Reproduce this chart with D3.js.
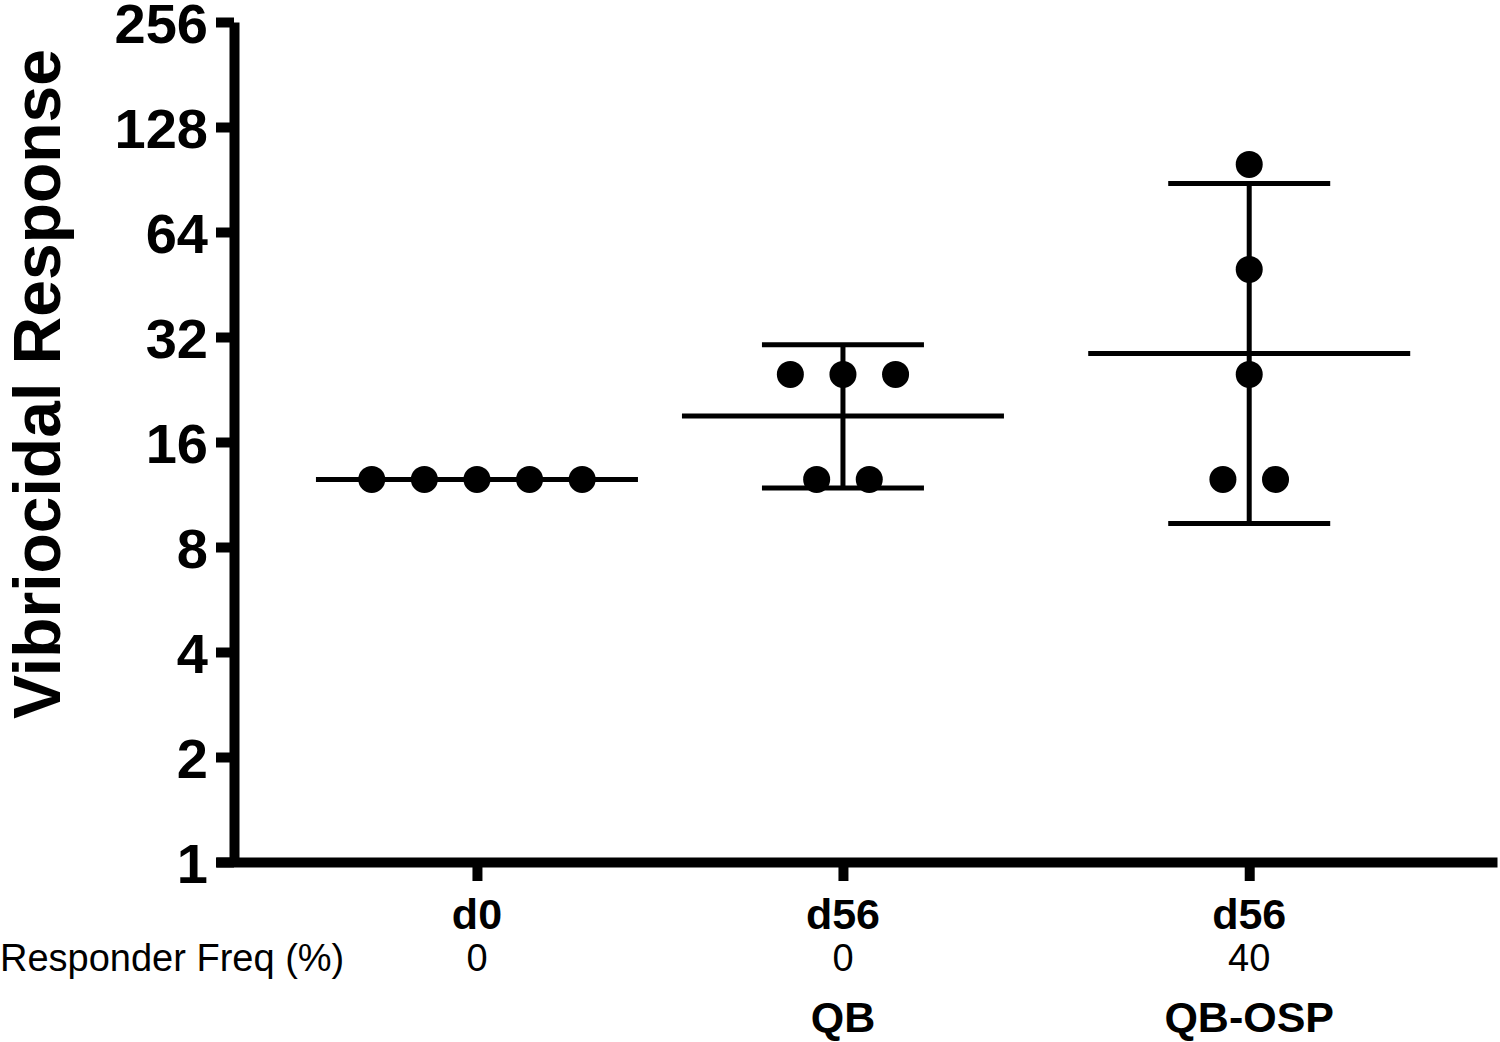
<!DOCTYPE html>
<html>
<head>
<meta charset="utf-8">
<script src="https://cdn.jsdelivr.net/npm/d3@7"></script>
<style>
  body { margin: 0; background: #fff; }
  text { font-family: "Liberation Sans", Arial, sans-serif; fill: #000; }
</style>
</head>
<body>
<div class="chart"></div>
<script>
// data
const timepoints = ["d0", "d56", "d56"];
const vaccines = ["", "QB", "QB-OSP"];
const responderFreq = [0, 0, 40];
const groupSlot = [0, 1, 2.11];   // column position (gap before last column)

const d0Titers = [12.5, 12.5, 12.5, 12.5, 12.5];
const qbTiters = [25, 25, 25, 12.5, 12.5];
const qbOspTiters = [100, 50, 25, 12.5, 12.5];

// geometric mean with 95% CI
const geoMeans = [12.5, 19.0, 28.7];
const ciLower = [12.5, 11.8, 9.35];
const ciUpper = [12.5, 30.4, 88.2];

const yTicks = [1, 2, 4, 8, 16, 32, 64, 128, 256];

const titers = [d0Titers, qbTiters, qbOspTiters];

const svg_width = 1500, svg_height = 1042;
const svg = d3.select('.chart').append('svg')
  .attr('width', svg_width).attr('height', svg_height);

const yScale = d3.scaleLog().base(2).domain([1, 256]).range([862, 22]);
const xScale = d3.scaleLinear().domain([-0.713, 2.787]).range([216, 1497]);

const dotSpacing = 52.6;
const meanHalf = 161, capHalf = 81;

// y axis
const yAxis = d3.axisLeft(yScale)
  .tickValues(yTicks)
  .tickFormat(d3.format('d'))
  .tickSize(18)
  .tickSizeOuter(0)
  .tickPadding(8);
const yAxisDraw = svg.append('g')
  .attr('transform', 'translate(234,0)')
  .call(yAxis);
yAxisDraw.select('.domain').attr('stroke-width', 10);
yAxisDraw.selectAll('.tick line').attr('stroke-width', 10);
yAxisDraw.selectAll('.tick text')
  .style('font-size', '56px').style('font-weight', 'bold')
  .attr('dy', '0.36em');

// x axis
const xAxis = d3.axisBottom(xScale)
  .tickValues(groupSlot)
  .tickFormat('')
  .tickSize(19)
  .tickSizeOuter(0);
const xAxisDraw = svg.append('g')
  .attr('transform', 'translate(0,862)')
  .call(xAxis);
xAxisDraw.select('.domain').attr('stroke-width', 10);
xAxisDraw.selectAll('.tick line').attr('stroke-width', 10);

// y label
svg.append('text')
  .attr('transform', `translate(60,${(50 + 718) / 2}) rotate(-90)`)
  .attr('text-anchor', 'middle')
  .style('font-size', '66px').style('font-weight', 'bold')
  .text('Vibriocidal Response');

// category labels
const labels = svg.append('g');
labels.selectAll('.tp').data(timepoints).enter().append('text')
  .attr('class', 'tp')
  .attr('x', (d, i) => xScale(groupSlot[i]))
  .attr('y', 929)
  .attr('text-anchor', 'middle')
  .style('font-size', '43px').style('font-weight', 'bold')
  .text(d => d);

labels.append('text')
  .attr('x', 0).attr('y', 971)
  .style('font-size', '38px')
  .text('Responder Freq (%)');

labels.selectAll('.rf').data(responderFreq).enter().append('text')
  .attr('class', 'rf')
  .attr('x', (d, i) => xScale(groupSlot[i]))
  .attr('y', 971)
  .attr('text-anchor', 'middle')
  .style('font-size', '38px')
  .text(d => d);

labels.selectAll('.vac').data(vaccines).enter().append('text')
  .attr('class', 'vac')
  .attr('x', (d, i) => xScale(groupSlot[i]))
  .attr('y', 1032)
  .attr('text-anchor', 'middle')
  .style('font-size', '43px').style('font-weight', 'bold')
  .text(d => d);

// mean and CI bars
const stats = groupSlot.map((s, i) => ({ slot: s, mean: geoMeans[i], lo: ciLower[i], hi: ciUpper[i] }));
const bars = svg.append('g').attr('stroke', '#000').attr('stroke-width', 5);
stats.forEach(d => {
  const cx = xScale(d.slot);
  bars.append('line').attr('x1', cx).attr('x2', cx)
    .attr('y1', yScale(d.hi)).attr('y2', yScale(d.lo));
  [d.hi, d.lo].forEach(v => {
    bars.append('line').attr('x1', cx - capHalf).attr('x2', cx + capHalf)
      .attr('y1', yScale(v)).attr('y2', yScale(v));
  });
  bars.append('line').attr('x1', cx - meanHalf).attr('x2', cx + meanHalf)
    .attr('y1', yScale(d.mean)).attr('y2', yScale(d.mean));
});

// points: equal values spread side by side
const points = [];
titers.forEach((vals, gi) => {
  const counts = d3.rollup(vals, v => v.length, d => d);
  counts.forEach((n, v) => {
    for (let k = 0; k < n; k++) {
      points.push({ slot: groupSlot[gi], value: v, offset: (k - (n - 1) / 2) * dotSpacing });
    }
  });
});
svg.append('g').selectAll('circle').data(points).enter().append('circle')
  .attr('cx', d => xScale(d.slot) + d.offset)
  .attr('cy', d => yScale(d.value))
  .attr('r', 13.5)
  .attr('fill', '#000');
</script>
</body>
</html>
